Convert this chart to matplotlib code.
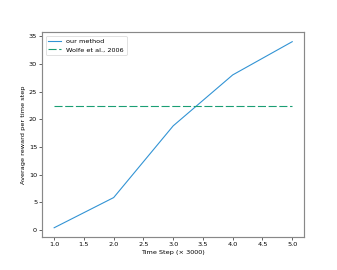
import matplotlib
matplotlib.use("Agg")
import matplotlib.pyplot as plt

steps = [1.0, 2.0, 3.0, 4.0, 5.0]
our_method = [0.4, 5.85, 18.8, 28.0, 34.0]
wolfe_value = 22.4

plt.rcParams['lines.scale_dashes'] = False
plt.rcParams['font.size'] = 8.9
fig = plt.figure(figsize=(6.4, 5.114), dpi=52.8)
ax = fig.add_axes([0.125, 0.122, 0.775, 0.758])
ax.plot(steps, our_method, color='#3193d4', lw=1.5, label='our method')
ax.plot([steps[0], steps[-1]], [wolfe_value, wolfe_value], color='#1a9e74', lw=1.5,
        dashes=(11, 3.6), label='Wolfe et al., 2006')
ax.set_xticks([1.0, 1.5, 2.0, 2.5, 3.0, 3.5, 4.0, 4.5, 5.0])
ax.set_yticks([0, 5, 10, 15, 20, 25, 30, 35])
ax.set_xlabel('Time Step (× 3000)')
ax.set_ylabel('Average reward per time step')
for s in ax.spines.values():
    s.set_color('#888888')
    s.set_linewidth(1.6)
ax.legend(loc='upper left')
fig.savefig('out.png', dpi=52.8)
